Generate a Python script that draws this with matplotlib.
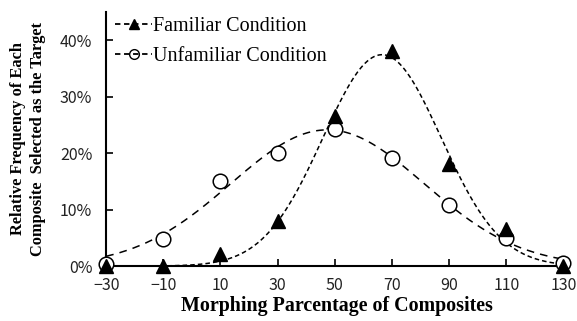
import numpy as np
import matplotlib
matplotlib.use("Agg")
import matplotlib.pyplot as plt
from matplotlib.ticker import PercentFormatter

x_values = [-30, -10, 10, 30, 50, 70, 90, 110, 130]
familiar = [0.000, 0.000, 0.022, 0.080, 0.265, 0.380, 0.180, 0.065, 0.000]
unfamiliar = [0.003, 0.048, 0.150, 0.200, 0.243, 0.192, 0.108, 0.050, 0.005]
x_ticks = [-30, -10, 10, 30, 50, 70, 90, 110, 130]
x_tick_labels = ["\u221230", "\u221210", "10", "30", "50", "70", "90", "110", "130"]
y_ticks = [0.0, 0.1, 0.2, 0.3, 0.4]


def gauss_fit(x, y):
    x = np.asarray(x, float)
    y = np.asarray(y, float)
    mu = np.sum(x * y) / np.sum(y)
    sd = np.sqrt(np.sum((x - mu) ** 2 * y) / np.sum(y))
    a = y.max()
    p = np.array([a, mu, sd])
    for _ in range(200):
        a, mu, sd = p
        e = np.exp(-(x - mu) ** 2 / (2 * sd ** 2))
        f = a * e
        J = np.column_stack([e, f * (x - mu) / sd ** 2, f * (x - mu) ** 2 / sd ** 3])
        r = y - f
        step, *_ = np.linalg.lstsq(J, r, rcond=None)
        p = p + 0.5 * step
    return p


def gauss(x, p):
    a, mu, sd = p
    return a * np.exp(-(x - mu) ** 2 / (2 * sd ** 2))


fig = plt.figure(figsize=(5.77, 3.21), dpi=100)
ax = fig.add_axes([0.184, 0.171, 0.800, 0.792])

xs = np.linspace(-30, 130, 400)
pf = gauss_fit(x_values, familiar)
pu = gauss_fit(x_values, unfamiliar)

ax.plot(xs, gauss(xs, pu), color="black", lw=1.1, ls=(0, (5, 4)), zorder=2)
ax.plot(xs, gauss(xs, pf), color="black", lw=1.1, ls=(0, (3, 2)), zorder=2)

ax.plot(x_values, unfamiliar, ls="none", marker="o", ms=10.5, mfc="white",
        mec="black", mew=1.1, zorder=3, clip_on=False)
ax.plot(x_values, familiar, ls="none", marker="^", ms=10, mfc="black",
        mec="black", zorder=4, clip_on=False)

# legend handles
h1, = ax.plot([], [], color="black", lw=1.3, ls=(0, (3, 2)), marker="^", ms=7.5, mfc="black")
h2, = ax.plot([], [], color="black", lw=1.3, ls=(0, (3, 2)), marker="o", ms=7, mfc="none")
ax.legend([h1, h2], ["Familiar Condition", "Unfamiliar Condition"], loc="upper left",
          bbox_to_anchor=(-0.02, 1.05), frameon=False, handlelength=1.85,
          handletextpad=0.05, labelspacing=0.5,
          prop={"family": "Liberation Serif", "size": 14.5})

ax.set_xlim(-30, 131.5)
ax.set_ylim(0, 0.45)
ax.set_xticks(x_ticks)
ax.set_xticklabels(x_tick_labels)
ax.set_yticks(y_ticks)
ax.yaxis.set_major_formatter(PercentFormatter(1.0, decimals=0))

for s in ["top", "right"]:
    ax.spines[s].set_visible(False)
for s in ["left", "bottom"]:
    ax.spines[s].set_linewidth(1.5)

ax.tick_params(direction="in", length=5, width=1.2, labelsize=11.5)
ax.tick_params(axis="x", pad=8)
ax.tick_params(axis="y", pad=10)
for lab in ax.get_xticklabels() + ax.get_yticklabels():
    lab.set_fontfamily(["Noto Sans CJK JP", "DejaVu Sans"])
    lab.set_color("#222222")

ax.set_xlabel("Morphing Parcentage of Composites", fontfamily="Liberation Serif",
              fontweight="bold", fontsize=14.4, labelpad=1.5)
ax.set_ylabel("Relative Frequency of Each\nComposite  Selected as the Target",
              fontfamily="Liberation Serif", fontweight="bold", fontsize=11.8,
              labelpad=10, linespacing=1.3)

fig.savefig("out.png", dpi=100)
